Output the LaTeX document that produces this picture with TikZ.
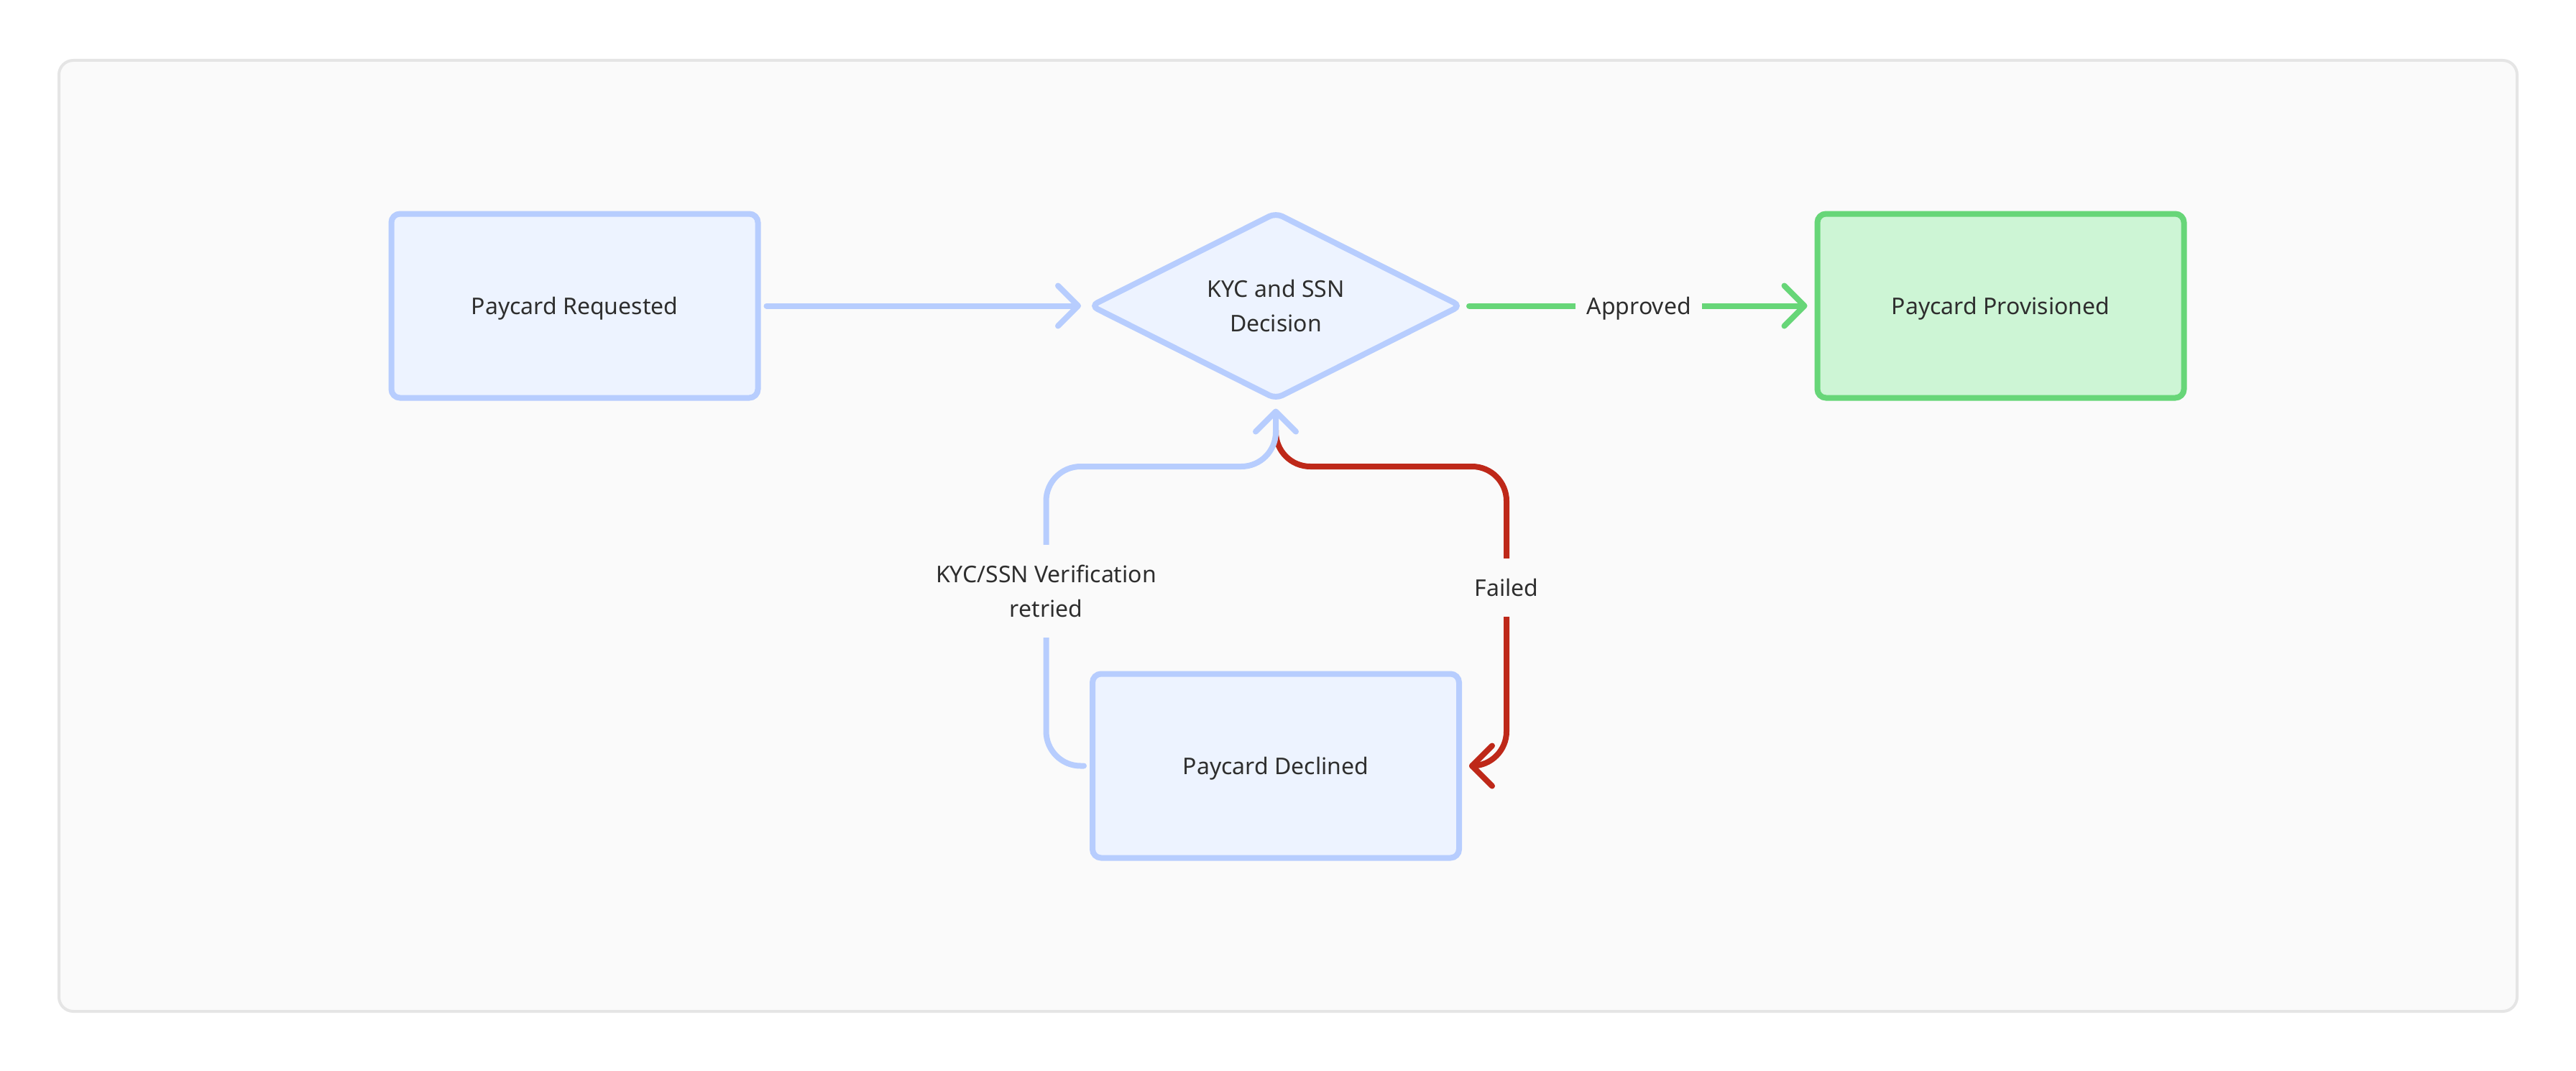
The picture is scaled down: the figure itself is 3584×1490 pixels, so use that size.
\documentclass[tikz,border=0pt]{standalone}
\usepackage{fontspec}
\setmainfont{Noto Sans}
\usetikzlibrary{shapes.geometric,arrows.meta}
\definecolor{blueline}{RGB}{183,205,254}
\definecolor{bluefill}{RGB}{237,243,255}
\definecolor{greenline}{RGB}{103,214,120}
\definecolor{greenfill}{RGB}{205,245,213}
\definecolor{redline}{RGB}{190,40,25}
\definecolor{txt}{RGB}{46,46,46}
\definecolor{panelfill}{RGB}{250,250,250}
\definecolor{panelline}{RGB}{229,229,229}
\tikzset{
  oneline/.style={text height=30pt, text depth=6pt},
  boxbase/.style={rectangle, rounded corners=12pt, line width=8pt, minimum width=510pt, minimum height=256pt, inner sep=0pt, outer sep=0pt, text=txt, align=center, oneline},
  bluebox/.style={boxbase, draw=blueline, fill=bluefill},
  greenbox/.style={boxbase, draw=greenline, fill=greenfill},
  decision/.style={diamond, aspect=2, rounded corners=10pt, line width=8pt, draw=blueline, fill=bluefill, minimum width=514pt, minimum height=258pt, inner sep=0pt, outer sep=0pt, text=txt, align=center},
  conn/.style={line width=8pt, line cap=round, line join=round, -{Straight Barb[length=28pt,width=56pt,round]}, shorten <=12pt, shorten >=14pt},
  lbl/.style={fill=panelfill, inner xsep=6pt, inner ysep=0pt, text=txt, align=center},
  panelbox/.style={rectangle, rounded corners=20pt, line width=4pt, draw=panelline, fill=panelfill, minimum width=3420pt, minimum height=1323pt, inner sep=0pt, outer sep=0pt}
}
\begin{document}
\begin{tikzpicture}[x=1pt,y=-1pt,font=\fontsize{32}{48}\selectfont]
\useasboundingbox[fill=white] (0,0) rectangle (3584,1490);
\node[panelbox] (panel) at (1792,745.5) {};
\node[bluebox] (req) at (799.5,425.5) {Paycard Requested};
\node[decision] (dec) at (1775,425.5) {KYC and SSN\\Decision};
\node[greenbox] (prov) at (2783.5,425.5) {Paycard Provisioned};
\node[bluebox] (decl) at (1775,1065.5) {Paycard Declined};
\coordinate (ltop) at (1455.5,649);
\coordinate (rtop) at (2096,649);
\draw[conn, draw=blueline] (req.east) -- (dec.west);
\draw[conn, draw=greenline] (dec.east) -- node[lbl, oneline, minimum width=176pt, minimum height=60pt] (lblA) {Approved} (prov.west);
\draw[conn, draw=redline, rounded corners=48pt, shorten <=44pt] (dec.south) |- (rtop) |- (decl.east);
\draw[conn, draw=blueline, rounded corners=48pt] (decl.west) -| (ltop) -| (dec.south);
\node[lbl, minimum height=129pt] (lblR) at (1455.5,822) {KYC/SSN Verification\\retried};
\node[lbl, oneline, minimum height=81pt] (lblF) at (2096,817) {Failed};
\end{tikzpicture}
\end{document}
